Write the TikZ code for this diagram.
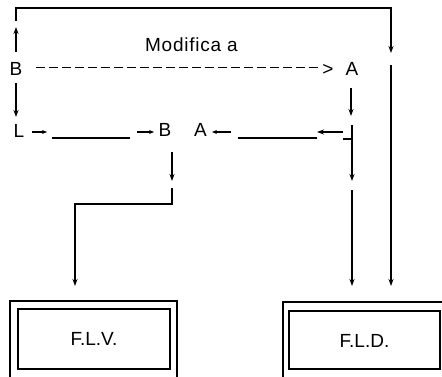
\documentclass[tikz,border=0pt]{standalone}
\usepackage{fontspec}
\setmainfont{Liberation Sans}
\usetikzlibrary{arrows.meta}
\begin{document}
\begin{tikzpicture}[x=1pt,y=-1pt, line width=1.25pt,
  >={Stealth[length=7pt,width=5pt]},
  small/.style={-{Stealth[length=5pt,width=4pt]}},
  lbl/.style={font=\fontsize{19}{21}\selectfont, inner sep=0pt, anchor=base},
  boxline/.style={draw, line width=1.5pt},
  dashline/.style={dash pattern=on 9pt off 4pt}]
\clip (0,0) rectangle (442,376);
\useasboundingbox (0,0) rectangle (442,376);

% labels
\node[lbl] (mod) at (191.5,51) {\addfontfeature{LetterSpace=4}Modifica a};
\node[lbl] (B1) at (16,75) {B};
\node[lbl] (gt) at (328,75) {>};
\node[lbl] (A1) at (352,75) {A};
\node[lbl] (L) at (19,137) {L};
\node[lbl] (B2) at (165,136) {B};
\node[lbl] (A2) at (200.5,136) {A};

% boxes
\draw[boxline] (10,301) rectangle (177,392);
\node[boxline, minimum width=152pt, minimum height=60pt] (flv) at (94,339) {};
\node[lbl] (flvt) at (flv.center) [yshift=-6pt] {F.L.V.};
\draw[boxline] (283,302) rectangle (446,392);
\node[boxline, minimum width=151pt, minimum height=58pt] (fld) at (364.5,340) {};
\node[lbl] (fldt) at (fld.center) [yshift=-7pt] {F.L.D.};

% coordinates
\coordinate (tl) at (16,8);
\coordinate (tr) at (391,8);
\coordinate (tl1) at (16,21);
\coordinate (tr1) at (391,53);
\coordinate (bup0) at (16,52);
\coordinate (bup1) at (16,27);
\coordinate (bdn0) at (16,83);
\coordinate (bdn1) at (16,117);
\coordinate (d0) at (36,67.5);
\coordinate (d1) at (318,67.5);
\coordinate (adn0) at (351,88);
\coordinate (adn1) at (351,116);
\coordinate (la0) at (32,132);
\coordinate (la1) at (47,132);
\coordinate (l0) at (52,138);
\coordinate (l1) at (130,138);
\coordinate (ba0) at (137,132);
\coordinate (ba1) at (154,132);
\coordinate (aa0) at (231,132);
\coordinate (aa1) at (212,132);
\coordinate (r0) at (238,138);
\coordinate (r1) at (317,138);
\coordinate (ra0) at (343,132);
\coordinate (ra1) at (317,132);
\coordinate (tk0) at (343,139);
\coordinate (tk1) at (352,139);
\coordinate (v0) at (352,125);
\coordinate (v1) at (352,181);
\coordinate (v2) at (352,190);
\coordinate (v3) at (352,286);
\coordinate (w0) at (391,65);
\coordinate (w1) at (391,286);
\coordinate (b0) at (172,152);
\coordinate (b1) at (172,181);
\coordinate (b2) at (172,188);
\coordinate (b3) at (172,204);
\coordinate (b4) at (75,204);
\coordinate (b5) at (75,286);

% connectors
\draw[->] (tl1) -- (tl) -- (tr) -- (tr1);
\draw[->] (bup0) -- (bup1);
\draw[->] (bdn0) -- (bdn1);
\draw[dashline] (d0) -- (d1);
\draw[->] (adn0) -- (adn1);
\draw[small] (la0) -- (la1);
\draw (l0) -- (l1);
\draw[small] (ba0) -- (ba1);
\draw[small] (aa0) -- (aa1);
\draw (r0) -- (r1);
\draw[->] (ra0) -- (ra1);
\draw (tk0) -- (tk1);
\draw[->] (v0) -- (v1);
\draw[->] (v2) -- (v3);
\draw[->] (w0) -- (w1);
\draw[->] (b0) -- (b1);
\draw[->] (b2) -- (b3) -- (b4) -- (b5);
\end{tikzpicture}
\end{document}
